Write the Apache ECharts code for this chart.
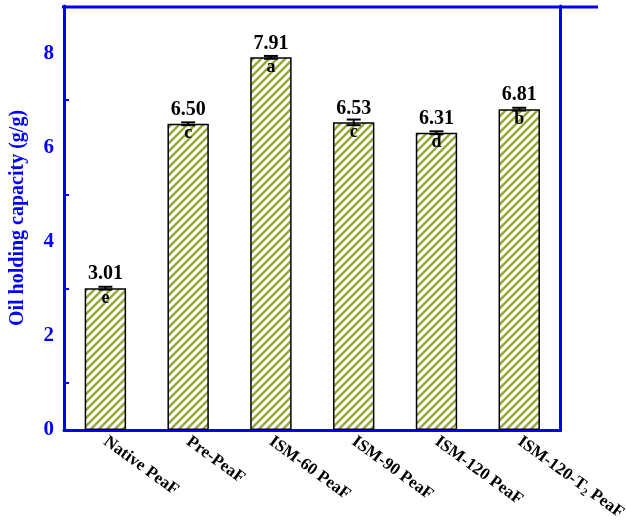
<!DOCTYPE html>
<html>
<head>
<meta charset="utf-8">
<script src="https://cdn.jsdelivr.net/npm/echarts@6/dist/echarts.min.js"></script>
<style>body{margin:0;background:#fff}#main{width:626px;height:526px}</style>
</head>
<body>
<div id="main"></div>
<script>
var categories = ['Native PeaF', 'Pre-PeaF', 'ISM-60 PeaF', 'ISM-90 PeaF', 'ISM-120 PeaF', 'ISM-120-T2 PeaF'];
var values = [3.01, 6.50, 7.91, 6.53, 6.31, 6.81];
var errors = [0.03, 0.03, 0.03, 0.06, 0.03, 0.03];
var letters = ['e', 'c', 'a', 'c', 'd', 'b'];

// hatch pattern
var cv = document.createElement('canvas');
cv.width = 8; cv.height = 8;
var c = cv.getContext('2d');
c.fillStyle = '#fff'; c.fillRect(0, 0, 8, 8);
c.strokeStyle = '#95a832'; c.lineWidth = 2.4;
c.beginPath();
c.moveTo(-2, 10); c.lineTo(10, -2);
c.moveTo(-6, 6); c.lineTo(6, -6);
c.moveTo(2, 14); c.lineTo(14, 2);
c.stroke();

var font = 'Liberation Serif';
var myChart = echarts.init(document.getElementById('main'));
var option = {
    animation: false,
    grid: { left: 62, right: 28, top: 6, bottom: 96 },
    xAxis: {
        type: 'category',
        data: categories,
        axisLine: { lineStyle: { color: '#0000ff', width: 3 } },
        axisTick: { show: false },
        axisLabel: {
            rotate: -36, interval: 0, margin: 10,
            formatter: function (v) {
                return v.indexOf('T2') >= 0 ? '{n|ISM-120-T}{s|2}{n| PeaF}' : '{n|' + v + '}';
            },
            rich: {
                n: { fontFamily: font, fontWeight: 'bold', fontSize: 17, color: '#000' },
                s: { fontFamily: font, fontWeight: 'bold', fontSize: 11, color: '#000', verticalAlign: 'bottom', padding: [9, 0, 0, 0] }
            }
        }
    },
    yAxis: [{
        type: 'value', min: 0, max: 9, interval: 2,
        name: 'Oil holding capacity (g/g)',
        nameLocation: 'middle', nameGap: 36,
        nameTextStyle: { color: '#0000ff', fontFamily: font, fontWeight: 'bold', fontSize: 20 },
        axisLine: { show: true, lineStyle: { color: '#0000ff', width: 3 } },
        axisTick: { inside: true, length: 8, lineStyle: { color: '#0000ff', width: 2 } },
        minorTick: { show: true, splitNumber: 2, length: 5, lineStyle: { color: '#0000ff', width: 2 } },
        axisLabel: { color: '#0000ff', fontFamily: font, fontWeight: 'bold', fontSize: 21, margin: 10, showMaxLabel: false },
        splitLine: { show: false }
    }, {
        type: 'value', min: 0, max: 9, position: 'right',
        axisLine: { show: true, lineStyle: { color: '#0000ff', width: 3 } },
        axisTick: { show: false }, axisLabel: { show: false }, splitLine: { show: false }
    }],
    graphic: [{
        type: 'line', shape: { x1: 62, y1: 7, x2: 598, y2: 7 },
        style: { stroke: '#0000ff', lineWidth: 3 }
    }],
    series: [{
        type: 'bar',
        data: values,
        barWidth: '50%',
        itemStyle: { color: { image: cv, repeat: 'repeat' }, borderColor: '#000', borderWidth: 1.5 },
        label: {
            show: true, position: 'top', distance: 4,
            formatter: function (p) { return p.value.toFixed(2); },
            color: '#000', fontFamily: font, fontWeight: 'bold', fontSize: 20
        }
    }, {
        type: 'custom',
        data: values.map(function (v, i) { return [i, v, errors[i], letters[i]]; }),
        renderItem: function (params, api) {
            var x = api.coord([api.value(0), 0])[0];
            var hi = api.coord([api.value(0), api.value(1) + api.value(2)])[1];
            var lo = api.coord([api.value(0), api.value(1) - api.value(2)])[1];
            var top = api.coord([api.value(0), api.value(1)])[1];
            var w = 7;
            return {
                type: 'group',
                children: [
                    { type: 'line', shape: { x1: x, y1: hi, x2: x, y2: lo }, style: { stroke: '#000', lineWidth: 2 } },
                    { type: 'line', shape: { x1: x - w, y1: hi, x2: x + w, y2: hi }, style: { stroke: '#000', lineWidth: 2 } },
                    { type: 'line', shape: { x1: x - w, y1: lo, x2: x + w, y2: lo }, style: { stroke: '#000', lineWidth: 2 } },
                    { type: 'text', x: x, y: top + 1, style: {
                        text: letters[params.dataIndex], fill: '#000', align: 'center', verticalAlign: 'top',
                        font: 'bold 18px "Liberation Serif"' } }
                ]
            };
        },
        z: 5
    }]
};
myChart.setOption(option);
</script>
</body>
</html>
